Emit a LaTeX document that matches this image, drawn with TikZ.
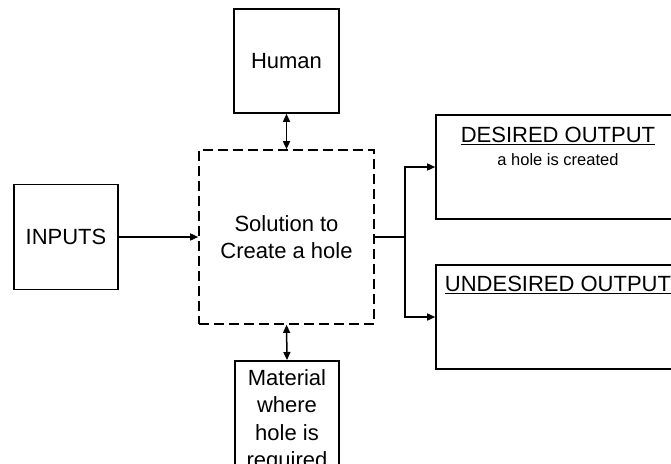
\documentclass[tikz,border=0pt]{standalone}
\usepackage{fontspec}
\setmainfont{Liberation Sans}
\usepackage{tikz}
\usetikzlibrary{arrows.meta, positioning}
\tikzset{
  blk/.style={draw,line width=1.6pt,inner sep=0pt},
  link/.style={line width=1.5pt}
}

\begin{document}
\begin{tikzpicture}[x=1pt,y=-1pt,>={Triangle[length=8pt,width=7pt]},
    font=\fontsize{22}{27.5}\selectfont]
    \useasboundingbox (0,0) rectangle (671,463);
    \fill[white] (0,0) rectangle (671,463);
    \clip (0,0) rectangle (671,463);

    % Solution
    \node[blk,dashed,dash pattern=on 10pt off 5pt,minimum width=175pt,minimum height=174pt,align=center] (sol) at (286.5,237) {Solution to\\Create a hole};

    % Human
    \node[blk,minimum width=105pt,minimum height=104pt] (human) at (286.5,61) {Human};

    % Inputs
    \node[blk,minimum width=104pt,minimum height=105pt] (inputs) at (66,237) {INPUTS};

    % Material
    \node[blk,anchor=north,minimum width=104pt,minimum height=120pt,inner ysep=4pt,align=center] (mat) at (287,360) {Material\\where\\hole is\\required};

    % Outputs
    \node[blk,minimum width=244pt,minimum height=104pt] (desired) at (558,167) {};
    \node[anchor=base,inner sep=0pt] (desout) at ([yshift=-28pt]desired.north) {\underline{DESIRED OUTPUT}};
    \node[anchor=base,inner sep=0pt,font=\fontsize{16.5}{20}\selectfont] (deshole) at ([yshift=-51pt]desired.north) {a hole is created};

    \node[blk,minimum width=244pt,minimum height=104pt] (undesired) at (558,317) {};
    \node[anchor=base,inner sep=0pt] (undout) at ([yshift=-27pt]undesired.north) {\underline{UNDESIRED OUTPUT}};

    % Arrows
    \coordinate (split) at (405,237);
    \draw[link,->] (inputs.east) -- (sol.west);
    \draw[link,<->] (human.south) -- (sol.north);
    \draw[link,<->] (sol.south) -- (mat.north);
    \draw[link] (sol.east) -- (split);
    \draw[link,->] (split) |- (desired.west);
    \draw[link,->] (split) |- (undesired.west);
\end{tikzpicture}
\end{document}
